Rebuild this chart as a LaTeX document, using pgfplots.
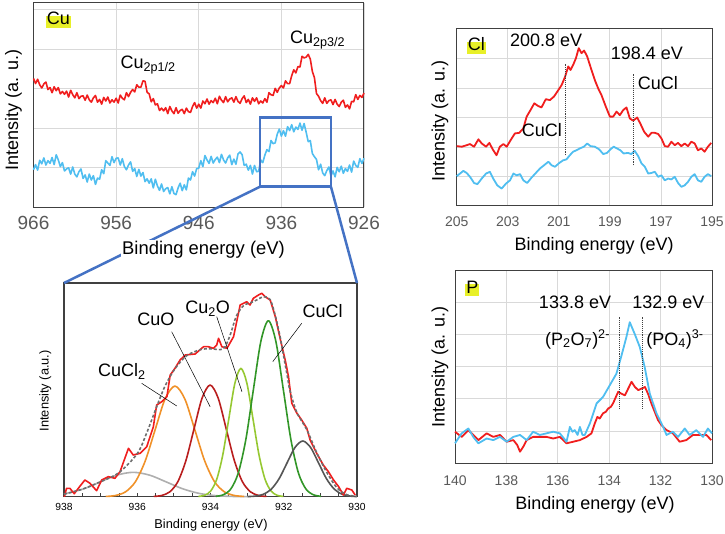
\documentclass[border=0pt]{standalone}
\usepackage{fontspec}
\setmainfont{Liberation Sans}
\usepackage{pgfplots}
\pgfplotsset{compat=1.18}

\definecolor{cured}{RGB}{240,30,30}
\definecolor{cucyan}{RGB}{80,190,240}
\definecolor{boxblue}{RGB}{68,114,196}
\definecolor{gridc}{RGB}{217,217,217}
\definecolor{framec}{RGB}{64,64,64}
\definecolor{tickc}{RGB}{89,89,89}
\definecolor{hl}{RGB}{232,240,40}
\definecolor{cgray}{RGB}{175,175,175}
\definecolor{corange}{RGB}{240,145,40}
\definecolor{cdred}{RGB}{185,30,30}
\definecolor{clgreen}{RGB}{150,200,50}
\definecolor{cgreen}{RGB}{50,150,40}
\definecolor{cdgray}{RGB}{85,85,85}
\definecolor{cdash}{RGB}{110,110,110}

\newcommand{\fs}[1]{\fontsize{#1}{#1}\selectfont}

\pgfplotsset{
  xps/.style={
    scale only axis, anchor=south west, x dir=reverse, clip=false,
    /pgf/number format/assume math mode=true,
    axis line style={framec, line width=1pt},
    grid=major, major grid style={gridc, line width=0.8pt},
    major tick length=0pt, yticklabels={},
    xticklabel style={text=tickc, anchor=center},
  },
  spec/.style={line width=1.6pt, line join=round},
}

\begin{document}
\begin{tikzpicture}[x=1pt,y=1pt]

% ---------------- Cu 2p survey ----------------
\begin{axis}[xps, name=cu, at={(33.5pt,325.7pt)}, width=330.5pt, height=204.3pt,
  xmin=926, xmax=966, ymin=0, ymax=5.17,
  xtick={926,936,946,956,966}, ytick={1,2,3,4,5},
  xticklabel style={font=\fs{19}, yshift=-15.2pt}]
\addplot[spec, cured] coordinates {
(966,3.26) (965.75,3.13) (965.5,3.24) (965.25,3.10) (965,3.02) (964.75,3.12) (964.5,3.17) (964.25,2.98)
(964,3.03) (963.75,2.90) (963.5,3.05) (963.25,2.95) (963,3.03) (962.75,2.87) (962.5,2.93) (962.25,2.86)
(962,2.94) (961.75,2.79) (961.5,2.96) (961.25,2.85) (961,2.77) (960.75,2.90) (960.5,2.75) (960.25,2.81)
(960,2.82) (959.75,2.71) (959.5,2.84) (959.25,2.72) (959,2.66) (958.75,2.77) (958.5,2.83) (958.25,2.66)
(958,2.73) (957.75,2.61) (957.5,2.78) (957.25,2.69) (957,2.79) (956.75,2.64) (956.5,2.72) (956.25,2.66)
(956,2.76) (955.75,2.64) (955.5,2.84) (955.25,2.76) (955,2.72) (954.75,2.90) (954.5,2.80) (954.25,2.91)
(954,2.98) (953.75,2.92) (953.5,3.10) (953.25,3.04) (953,3.04) (952.75,3.20) (952.5,3.19) (952.25,2.91)
(952,2.87) (951.75,2.67) (951.5,2.75) (951.25,2.59) (951,2.62) (950.75,2.45) (950.5,2.51) (950.25,2.44)
(950,2.52) (949.75,2.37) (949.5,2.55) (949.25,2.44) (949,2.37) (948.75,2.52) (948.5,2.38) (948.25,2.45)
(948,2.48) (947.75,2.37) (947.5,2.51) (947.25,2.42) (947,2.40) (946.75,2.55) (946.5,2.65) (946.25,2.51)
(946,2.61) (945.75,2.51) (945.5,2.69) (945.25,2.62) (945,2.74) (944.75,2.61) (944.5,2.70) (944.25,2.65)
(944,2.76) (943.75,2.62) (943.5,2.81) (943.25,2.71) (943,2.65) (942.75,2.80) (942.5,2.67) (942.25,2.74)
(942,2.77) (941.75,2.66) (941.5,2.80) (941.25,2.68) (941,2.63) (940.75,2.75) (940.5,2.82) (940.25,2.65)
(940,2.73) (939.75,2.61) (939.5,2.77) (939.25,2.68) (939,2.77) (938.75,2.62) (938.5,2.69) (938.25,2.64)
(938,2.75) (937.75,2.66) (937.5,2.90) (937.25,2.85) (937,2.83) (936.75,3.01) (936.5,2.91) (936.25,3.02)
(936,3.08) (935.75,3.02) (935.5,3.20) (935.25,3.13) (935,3.13) (934.75,3.33) (934.5,3.48) (934.25,3.40)
(934,3.56) (933.75,3.55) (933.5,3.82) (933.25,3.78) (933,3.80) (932.75,3.87) (932.5,3.75) (932.25,3.44)
(932,3.28) (931.75,2.88) (931.5,2.81) (931.25,2.70) (931,2.63) (930.75,2.77) (930.5,2.63) (930.25,2.70)
(930,2.72) (929.75,2.60) (929.5,2.73) (929.25,2.61) (929,2.55) (928.75,2.66) (928.5,2.71) (928.25,2.53)
(928,2.59) (927.75,2.49) (927.5,2.68) (927.25,2.67) (927,2.85) (926.75,2.73) (926.5,2.83) (926.25,2.78)
(926,2.89)
};
\addplot[spec, cucyan] coordinates {
(966,0.95) (965.75,1.08) (965.5,0.94) (965.25,1.19) (965,1.10) (964.75,1.25) (964.5,1.07) (964.25,1.18)
(964,1.11) (963.75,1.26) (963.5,1.08) (963.25,1.33) (963,1.20) (962.75,1.03) (962.5,1.13) (962.25,0.92)
(962,0.97) (961.75,1.00) (961.5,0.84) (961.25,1.02) (961,0.84) (960.75,0.77) (960.5,0.90) (960.25,0.97)
(960,0.73) (959.75,0.82) (959.5,0.64) (959.25,0.84) (959,0.69) (958.75,0.80) (958.5,0.58) (958.25,0.74)
(958,0.71) (957.75,0.95) (957.5,0.85) (957.25,1.18) (957,1.12) (956.75,1.06) (956.5,1.28) (956.25,1.13)
(956,1.24) (955.75,1.25) (955.5,1.07) (955.25,1.23) (955,1.03) (954.75,0.95) (954.5,1.07) (954.25,1.15)
(954,0.91) (953.75,0.98) (953.5,0.78) (953.25,0.96) (953,0.79) (952.75,0.88) (952.5,0.65) (952.25,0.72)
(952,0.61) (951.75,0.72) (951.5,0.49) (951.25,0.71) (951,0.54) (950.75,0.43) (950.5,0.59) (950.25,0.40)
(950,0.47) (949.75,0.50) (949.5,0.34) (949.25,0.52) (949,0.35) (948.75,0.32) (948.5,0.49) (948.25,0.61)
(948,0.42) (947.75,0.57) (947.5,0.44) (947.25,0.74) (947,0.69) (946.75,0.90) (946.5,0.79) (946.25,0.98)
(946,0.99) (945.75,1.18) (945.5,1.03) (945.25,1.31) (945,1.20) (944.75,1.11) (944.5,1.29) (944.25,1.12)
(944,1.21) (943.75,1.27) (943.5,1.13) (943.25,1.34) (943,1.20) (942.75,1.12) (942.5,1.25) (942.25,1.32)
(942,1.08) (941.75,1.22) (941.5,1.09) (941.25,1.35) (941,1.40) (940.75,1.33) (940.5,1.06) (940.25,1.09)
(940,0.94) (939.75,1.06) (939.5,0.84) (939.25,1.06) (939,0.90) (938.75,0.91) (938.5,1.20) (938.25,1.13)
(938,1.32) (937.75,1.46) (937.5,1.41) (937.25,1.69) (937,1.61) (936.75,1.63) (936.5,1.85) (936.25,1.98)
(936,1.80) (935.75,1.94) (935.5,1.80) (935.25,2.04) (935,1.94) (934.75,2.09) (934.5,1.91) (934.25,2.03)
(934,1.97) (933.75,2.13) (933.5,1.95) (933.25,2.12) (933,1.90) (932.75,1.66) (932.5,1.69) (932.25,1.36)
(932,1.28) (931.75,1.21) (931.5,0.95) (931.25,1.09) (931,0.87) (930.75,0.80) (930.5,0.93) (930.25,1.02)
(930,0.79) (929.75,0.92) (929.5,0.77) (929.25,1.01) (929,0.90) (928.75,1.04) (928.5,0.86) (928.25,0.98)
(928,0.91) (927.75,1.07) (927.5,0.89) (927.25,1.17) (927,1.06) (926.75,1.01) (926.5,1.23) (926.25,1.11)
(926,1.24)
};
\draw[boxblue, line width=2.5pt] (axis cs:938.59,0.52) rectangle (axis cs:930.0,2.27);
\coordinate (bbl) at (axis cs:938.59,0.52);
\coordinate (bbr) at (axis cs:930.0,0.52);
\node[fill=hl, inner xsep=1pt, inner ysep=1pt, text height=0.78em, text depth=0.22em,
  anchor=base, font=\fs{18}] at (axis cs:963.0,4.62) {Cu};
\node[anchor=base west, font=\fs{18}] at (axis cs:955.89,3.52) {Cu\textsubscript{2p1/2}};
\node[anchor=base west, font=\fs{18}] at (axis cs:935.36,4.15) {Cu\textsubscript{2p3/2}};
\end{axis}

% ---------------- Cl 2p ----------------
\begin{axis}[xps, at={(456.7pt,327pt)}, width=255.3pt, height=177pt,
  xmin=195, xmax=205, ymin=0, ymax=6,
  xtick={195,197,199,201,203,205}, ytick={1,2,3,4,5},
  xticklabel style={font=\fs{14}, yshift=-16pt}]
\addplot[spec, line width=1.8pt, cured] coordinates {
(205.00,2.03) (204.80,2.01) (204.61,2.06) (204.48,2.10) (204.32,2.01) (204.15,2.26) (204.02,2.12)
(203.85,2.01) (203.72,2.14) (203.59,1.92) (203.44,1.72) (203.31,2.01) (203.17,2.10) (203.04,2.01)
(202.89,2.23) (202.72,2.46) (202.55,2.48) (202.39,2.63) (202.26,3.03) (202.11,3.25) (201.96,3.48)
(201.81,3.39) (201.68,3.34) (201.51,3.62) (201.35,3.59) (201.19,3.71) (201.02,3.93) (200.89,4.10)
(200.76,4.37) (200.63,4.73) (200.54,4.61) (200.44,4.78) (200.33,5.01) (200.22,5.35) (200.11,5.18)
(200.01,5.27) (199.89,5.07) (199.72,4.61) (199.59,4.27) (199.46,3.99) (199.33,3.76) (199.16,3.37)
(199.00,3.03) (198.87,3.03) (198.74,3.20) (198.61,3.08) (198.48,3.25) (198.35,3.34) (198.22,2.97)
(198.09,2.89) (197.93,3.00) (197.80,2.78) (197.66,2.52) (197.50,2.35) (197.37,2.48) (197.24,2.48)
(197.11,2.44) (196.98,2.29) (196.85,2.03) (196.72,2.01) (196.59,2.18) (196.46,2.06) (196.33,2.14)
(196.20,2.03) (196.07,2.12) (195.94,2.03) (195.81,2.18) (195.68,2.12) (195.55,1.89) (195.42,1.95)
(195.29,1.84) (195.16,2.01) (195.03,2.14)
};
\addplot[spec, line width=1.8pt, cucyan] coordinates {
(205.00,1.01) (204.87,1.10) (204.74,1.19) (204.61,1.12) (204.48,0.99) (204.32,0.78) (204.19,0.74)
(204.02,0.93) (203.85,1.10) (203.70,1.16) (203.57,0.93) (203.41,0.70) (203.24,0.59) (203.07,0.76)
(202.91,0.87) (202.78,1.10) (202.65,1.04) (202.52,1.08) (202.39,0.87) (202.24,0.78) (202.07,0.96)
(201.90,1.12) (201.74,1.27) (201.58,1.38) (201.41,1.50) (201.28,1.38) (201.15,1.33) (200.98,1.46)
(200.83,1.55) (200.70,1.58) (200.57,1.72) (200.44,1.84) (200.31,1.89) (200.18,1.95) (200.02,2.01)
(199.89,2.12) (199.76,2.03) (199.59,2.01) (199.42,1.92) (199.26,1.76) (199.11,1.80) (198.98,1.92)
(198.85,2.01) (198.72,1.95) (198.59,1.89) (198.46,1.78) (198.29,1.80) (198.16,1.76) (198.03,1.87)
(197.89,1.69) (197.76,1.44) (197.63,1.33) (197.50,1.10) (197.37,1.12) (197.24,1.16) (197.11,0.99)
(196.98,1.04) (196.85,0.87) (196.72,0.93) (196.59,0.90) (196.46,0.99) (196.33,0.78) (196.20,0.65)
(196.07,0.70) (195.94,0.82) (195.81,0.99) (195.68,1.08) (195.55,0.87) (195.42,0.82) (195.29,0.99)
(195.16,1.08) (195.03,1.01)
};
\draw[densely dotted, framec, line width=0.9pt] (axis cs:200.76,1.72) -- (axis cs:200.76,4.82);
\draw[densely dotted, framec, line width=0.9pt] (axis cs:198.09,1.38) -- (axis cs:198.09,4.48);
\node[fill=hl, inner xsep=1pt, inner ysep=1pt, text height=0.78em, text depth=0.22em,
  anchor=base, font=\fs{18}] at (axis cs:204.23,5.26) {Cl};
\node[anchor=base, font=\fs{18}] at (axis cs:201.5,5.42) {200.8 eV};
\node[anchor=base, font=\fs{18}] at (axis cs:197.55,4.97) {198.4 eV};
\node[anchor=base, font=\fs{18}] at (axis cs:197.12,3.96) {CuCl};
\node[anchor=base, font=\fs{18}] at (axis cs:201.66,2.35) {CuCl};
\end{axis}

% ---------------- P 2p ----------------
\begin{axis}[xps, at={(455pt,69.7pt)}, width=257pt, height=193.3pt,
  xmin=130, xmax=140, ymin=0, ymax=6,
  xtick={130,132,134,136,138,140}, ytick={1,2,3,4,5},
  xticklabel style={font=\fs{14}, yshift=-17.7pt}]
\addplot[spec, line width=1.8pt, cured] coordinates {
(140.00,0.98) (139.74,0.82) (139.48,1.03) (139.29,0.88) (139.09,0.72) (138.77,0.93) (138.51,0.82)
(138.25,0.88) (137.99,0.67) (137.73,0.72) (137.58,0.57) (137.47,0.36) (137.34,0.52) (137.21,0.72)
(136.96,0.82) (136.70,0.82) (136.44,0.82) (136.18,0.77) (135.92,0.82) (135.66,0.62) (135.40,0.67)
(135.14,0.72) (134.88,0.82) (134.69,0.93) (134.56,1.24) (134.46,1.44) (134.37,1.39) (134.24,1.55)
(134.13,1.60) (134.04,1.70) (133.94,1.75) (133.85,1.86) (133.74,2.06) (133.65,2.22) (133.52,2.16)
(133.39,2.11) (133.26,2.32) (133.13,2.53) (133.00,2.37) (132.87,2.27) (132.74,2.32) (132.61,2.37)
(132.49,2.16) (132.36,1.86) (132.23,1.60) (132.10,1.34) (131.97,1.19) (131.77,1.03) (131.52,0.93)
(131.26,0.67) (131.00,0.72) (130.74,0.88) (130.48,0.88) (130.22,0.88) (130.03,0.72)
};
\addplot[spec, line width=1.8pt, cucyan] coordinates {
(140.00,0.62) (139.74,0.93) (139.48,1.08) (139.29,0.82) (139.09,0.62) (138.77,0.77) (138.51,0.72)
(138.25,0.82) (137.99,0.67) (137.73,0.82) (137.47,0.88) (137.21,0.72) (136.96,0.98) (136.70,0.88)
(136.44,0.93) (136.18,0.98) (135.92,0.93) (135.66,0.67) (135.53,1.13) (135.43,0.98) (135.34,1.03)
(135.23,0.88) (135.14,1.13) (135.04,0.88) (134.95,0.88) (134.75,1.24) (134.49,1.86) (134.24,2.06)
(133.98,2.42) (133.72,2.78) (133.52,3.35) (133.33,3.92) (133.20,4.38) (133.01,4.02) (132.81,3.61)
(132.62,2.99) (132.42,2.16) (132.16,1.55) (131.90,1.13) (131.77,0.88) (131.52,0.98) (131.32,0.82)
(131.06,1.08) (130.87,0.88) (130.61,1.03) (130.35,0.82) (130.16,1.08) (130.00,0.93)
};
\draw[densely dotted, framec, line width=0.9pt] (axis cs:133.59,1.70) -- (axis cs:133.59,4.54);
\draw[densely dotted, framec, line width=0.9pt] (axis cs:132.71,1.70) -- (axis cs:132.71,4.54);
\node[fill=hl, inner xsep=1pt, inner ysep=1pt, text height=0.78em, text depth=0.22em,
  anchor=base, font=\fs{18}] at (axis cs:139.32,5.28) {P};
\node[anchor=base, font=\fs{18}] at (axis cs:135.33,4.81) {133.8 eV};
\node[anchor=base, font=\fs{18}] at (axis cs:131.70,4.81) {132.9 eV};
\node[anchor=base, font=\fs{18}] at (axis cs:135.23,3.67) {(P\textsubscript{2}O\textsubscript{7})\textsuperscript{2-}};
\node[anchor=base, font=\fs{18}] at (axis cs:131.44,3.67) {(PO\textsubscript{4})\textsuperscript{3-}};
\end{axis}

% ---------------- Cu 2p3/2 fit (inset) ----------------
\begin{axis}[name=ins, scale only axis, anchor=south west, at={(64pt,36.3pt)},
  width=293pt, height=213.7pt, x dir=reverse, clip=false,
  xmin=930, xmax=938, ymin=0, ymax=213.7,
  xtick={930,932,934,936,938}, minor x tick num=3, ytick=\empty,
  xtick pos=lower, tick align=inside, major tick length=3.5pt, minor tick length=3.5pt,
  tick style={framec, line width=0.8pt},
  axis line style={framec, line width=1.4pt},
  /pgf/number format/assume math mode=true,
  xticklabel style={font=\fs{10.3}, anchor=center, yshift=-10.3pt}]
\addplot[spec, smooth, cgray] coordinates {
(938.0,2.7) (937.46,7.92) (937.01,14.80) (936.56,21.53) (936.11,24.4) (935.66,21.53)
(935.21,14.80) (934.76,7.92) (934.31,3.30) (933.86,1.07) (933.41,0.27) (932.96,0.05)
};
\addplot[spec, smooth, corange] coordinates {
(936.86,0.24) (936.59,1.23) (936.32,4.86) (936.05,14.98) (935.78,35.94) (935.51,67.14)
(935.24,97.69) (934.97,110.7) (934.70,97.69) (934.43,67.14) (934.16,35.94) (933.89,14.98)
(933.62,4.86) (933.35,1.23) (933.08,0.24)
};
\addplot[spec, smooth, cdred] coordinates {
(935.55,0.25) (935.33,1.24) (935.11,4.90) (934.89,15.11) (934.67,36.27) (934.45,67.75)
(934.23,98.57) (934.01,111.7) (933.79,98.57) (933.57,67.75) (933.35,36.27) (933.13,15.11)
(932.91,4.90) (932.69,1.24) (932.47,0.25)
};
\addplot[spec, smooth, clgreen] coordinates {
(934.33,0.28) (934.16,1.43) (933.995,5.64) (933.83,17.37) (933.665,41.69) (933.50,77.87)
(933.335,113.31) (933.17,128.4) (933.005,113.31) (932.84,77.87) (932.675,41.69) (932.51,17.37)
(932.345,5.64) (932.18,1.43) (932.01,0.28)
};
\addplot[spec, smooth, cgreen] coordinates {
(933.855,0.39) (933.65,1.95) (933.445,7.73) (933.24,23.81) (933.035,57.15) (932.83,106.74)
(932.625,155.32) (932.42,176) (932.215,155.32) (932.01,106.74) (931.805,57.15) (931.60,23.81)
(931.395,7.73) (931.19,1.95) (930.985,0.39)
};
\addplot[spec, smooth, cdgray] coordinates {
(932.985,0.12) (932.77,0.62) (932.555,2.45) (932.34,7.54) (932.125,18.09) (931.91,33.78)
(931.695,49.16) (931.48,55.7) (931.265,49.16) (931.05,33.78) (930.835,18.09) (930.62,7.54)
(930.405,2.45) (930.19,0.62) (930.0,0.15)
};
\addplot[spec, cured] coordinates {
(937.99,0) (937.93,8.4) (937.84,8.4) (937.72,3) (937.56,10.7) (937.43,16.7) (937.29,13.4)
(937.11,6) (936.97,16.7) (936.79,20) (936.61,18.4) (936.47,25) (936.24,48.4) (936.11,41.7)
(935.92,43.4) (935.74,50) (935.56,70) (935.47,91.7) (935.33,95) (935.19,100) (935.10,121.7)
(934.97,128.4) (934.83,136.7) (934.69,141.7) (934.42,142.7) (934.19,150) (934.06,150)
(933.92,148.4) (933.83,151.7) (933.78,158.4) (933.69,150) (933.55,148.4) (933.37,160)
(933.19,191.7) (933.01,195) (932.92,191.7) (932.83,198.4) (932.69,201.7) (932.60,203.4)
(932.51,200) (932.37,196.7) (932.23,180) (932.10,158.4) (931.96,136.7) (931.87,120)
(931.78,93.4) (931.64,83.4) (931.51,76.7) (931.37,68.4) (931.28,56.7) (931.10,43.4)
(930.92,31.7) (930.78,25) (930.64,16.7) (930.50,10) (930.37,1.7) (930.28,8.4) (930.14,6.7)
(930.05,1.7)
};
\addplot[spec, smooth, cdash, dashed, dash pattern=on 3pt off 2pt] coordinates {
(938.0,2.5) (937.5,7.5) (937.0,15) (936.5,24) (936.0,43) (935.75,63) (935.5,87) (935.25,110)
(934.97,128) (934.65,141) (934.28,147) (934.0,148) (933.74,147) (933.6,150) (933.45,163)
(933.3,180) (933.1,191) (932.83,195) (932.55,200) (932.37,197) (932.23,181) (932.1,160)
(932.01,142) (931.9,120) (931.83,106) (931.64,84) (931.37,67) (931.1,44) (930.82,24)
(930.55,9) (930.28,2) (930.0,0.5)
};
\draw[black, line width=0.5pt] (axis cs:935.88,113.4) -- (axis cs:934.92,90.7);
\draw[black, line width=0.5pt] (axis cs:935.06,165) -- (axis cs:934.01,90);
\draw[black, line width=0.5pt] (axis cs:933.83,180) -- (axis cs:933.14,105);
\draw[black, line width=0.5pt] (axis cs:931.51,173.4) -- (axis cs:932.30,135);
\node[anchor=base, font=\fs{18}] at (axis cs:936.42,120) {CuCl\textsubscript{2}};
\node[anchor=base, font=\fs{18}] at (axis cs:935.49,170.7) {CuO};
\node[anchor=base, font=\fs{18}] at (axis cs:934.08,182.7) {Cu\textsubscript{2}O};
\node[anchor=base, font=\fs{18}] at (axis cs:930.94,179.4) {CuCl};
\end{axis}

% zoom connectors
\draw[boxblue, line width=2.5pt] (bbl) -- (ins.north west);
\draw[boxblue, line width=2.5pt] (bbr) -- (ins.north east);

% axis titles
\node[fill=white, inner sep=1pt, anchor=base, font=\fs{18.4}] at (203.5,278.3) {Binding energy (eV)};
\node[rotate=90, anchor=base, font=\fs{18}] at (18,423) {Intensity (a. u.)};
\node[anchor=base, font=\fs{18}] at (594.2,282.7) {Binding energy (eV)};
\node[rotate=90, anchor=base, font=\fs{18}] at (444.7,412.2) {Intensity (a. u.)};
\node[anchor=base, font=\fs{18}] at (595,23.3) {Binding energy (eV)};
\node[rotate=90, anchor=base, font=\fs{18}] at (444.7,166.3) {Intensity (a. u.)};
\node[anchor=base, font=\fs{12.8}] at (211,4.5) {Binding energy (eV)};
\node[rotate=90, anchor=base, font=\fs{12.8}] at (48.5,142.2) {Intensity (a.u.)};

\pgfresetboundingbox
\path[use as bounding box] (0,0) rectangle (725,533);
\end{tikzpicture}
\end{document}
